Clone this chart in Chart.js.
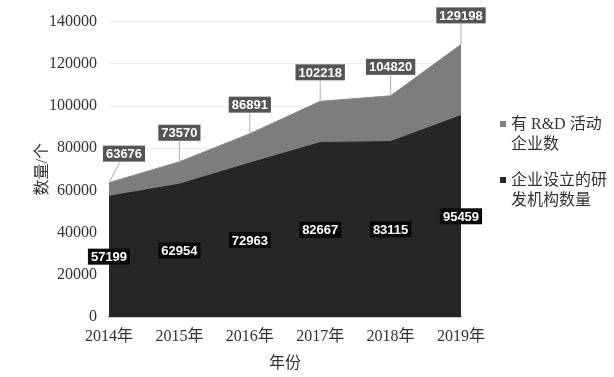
<!DOCTYPE html>
<html>
<head>
<meta charset="utf-8">
<script src="https://cdn.jsdelivr.net/npm/chart.js@4"></script>
<style>
  body { margin: 0; background: #fff; }
  .wrap { position: relative; width: 614px; height: 377px; }
  .legend { position: absolute; left: 500px; top: 114px; font-family: "Liberation Serif", "Noto Sans CJK SC", serif; font-size: 16px; color: #333; line-height: 20px; }
  .legend .item { position: relative; padding-left: 11px; margin-bottom: 16px; }
  .legend .box { position: absolute; left: 0; top: 7px; width: 6px; height: 6px; }
</style>
</head>
<body>
<div class="wrap">
  <canvas id="chart" width="614" height="377"></canvas>
  <div class="legend">
    <div class="item"><span class="box" style="background:#808080"></span>有 R&amp;D 活动<br>企业数</div>
    <div class="item"><span class="box" style="background:#262626"></span>企业设立的研<br>发机构数量</div>
  </div>
</div>
<script>
const years = ["2014年", "2015年", "2016年", "2017年", "2018年", "2019年"];
const rdFirms = [63676, 73570, 86891, 102218, 104820, 129198];
const rdInstitutes = [57199, 62954, 72963, 82667, 83115, 95459];

const serif = "'Liberation Serif', 'Times New Roman', 'Noto Sans CJK SC', serif";

// value boxes: gray ones above the line, black ones in the middle of the dark area
const valueLabels = {
  id: "valueLabels",
  afterDatasetsDraw(chart) {
    const ctx = chart.ctx;
    const x = chart.scales.x, y = chart.scales.y;
    ctx.save();
    ctx.font = "bold 13px 'Liberation Sans', Arial, sans-serif";
    ctx.textAlign = "center";
    ctx.textBaseline = "middle";
    rdFirms.forEach((v, i) => {
      const px = x.getPixelForValue(i), py = y.getPixelForValue(v);
      const w = ctx.measureText(String(v)).width + 6, h = 16;
      let cx = px;
      if (i === 0) cx = px + 15;
      const cy = py - 29;
      ctx.strokeStyle = "#b0b0b0";
      ctx.lineWidth = 1;
      ctx.beginPath();
      ctx.moveTo(cx + (px - cx) * 0.25, cy + h / 2);
      ctx.lineTo(px, py);
      ctx.stroke();
      ctx.fillStyle = "#555555";
      ctx.fillRect(cx - w / 2, cy - h / 2, w, h);
      ctx.fillStyle = "#ffffff";
      ctx.fillText(String(v), cx, cy + 1);
    });
    rdInstitutes.forEach((v, i) => {
      const px = x.getPixelForValue(i), py = y.getPixelForValue(v / 2);
      const w = ctx.measureText(String(v)).width + 6, h = 16;
      ctx.fillStyle = "#080808";
      ctx.fillRect(px - w / 2, py - h / 2, w, h);
      ctx.fillStyle = "#ffffff";
      ctx.fillText(String(v), px, py + 1);
    });
    ctx.restore();
  }
};

new Chart(document.getElementById("chart"), {
  type: "line",
  plugins: [valueLabels],
  data: {
    labels: years,
    datasets: [
      {
        label: "企业设立的研发机构数量",
        data: rdInstitutes,
        fill: "origin",
        backgroundColor: "#262626",
        borderColor: "#262626",
        borderWidth: 1,
        pointRadius: 0,
        tension: 0,
        order: 0
      },
      {
        label: "有R&D活动企业数",
        data: rdFirms,
        fill: "origin",
        backgroundColor: "#7d7d7d",
        borderColor: "#8a8a8a",
        borderWidth: 1,
        pointRadius: 0,
        tension: 0,
        order: 1
      }
    ]
  },
  options: {
    responsive: false,
    animation: false,
    layout: { padding: { left: 33, right: 153, top: 12, bottom: 4 } },
    plugins: {
      legend: { display: false },
      tooltip: { enabled: false }
    },
    scales: {
      x: {
        offset: false,
        afterFit: (s) => { s.height = 56; },
        grid: { display: false, drawTicks: false },
        border: { color: "#c8c8c8", width: 2 },
        ticks: { color: "#333", font: { family: serif, size: 16 }, padding: 10, maxRotation: 0 },
        title: { display: true, text: "年份", color: "#333", font: { family: serif, size: 16 }, padding: 0 }
      },
      y: {
        min: 0,
        max: 140000,
        afterFit: (s) => { s.width = 76; },
        grid: { color: "#ececec", drawTicks: false },
        border: { display: false },
        ticks: { stepSize: 20000, color: "#333", font: { family: serif, size: 16 }, padding: 12, callback: (v) => String(v) },
        title: { display: true, text: "数量/个", color: "#333", font: { family: serif, size: 16 }, padding: 0 }
      }
    }
  }
});
</script>
</body>
</html>
